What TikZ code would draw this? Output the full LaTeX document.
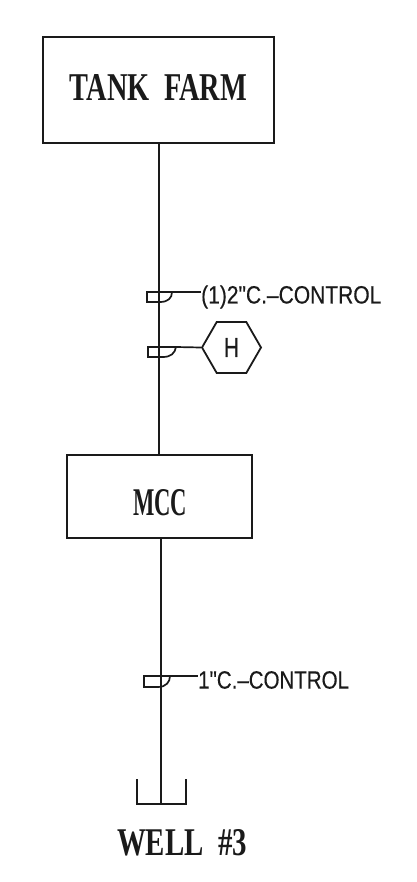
\documentclass[tikz,border=0pt]{standalone}
\usepackage{fontspec}
\usepackage{graphicx}
\setmainfont{Liberation Sans}
\newfontfamily\slabfont{Liberation Serif}[BoldFont={Liberation Serif Bold}]
\newfontfamily\calloutfont{Liberation Sans}[FakeBold=0.4]
\usetikzlibrary{shapes.geometric}
\definecolor{inkc}{HTML}{1A1A1A}
\tikzset{
  wire/.style={line width=2pt,draw=inkc},
  thin wire/.style={line width=1.7pt,draw=inkc},
  blockbox/.style={draw=inkc,line width=2.2pt,inner sep=0pt},
  slab/.style={font=\slabfont\bfseries\fontsize{36}{36}\selectfont,text=inkc,inner sep=0pt},
  callout/.style={font=\calloutfont\fontsize{25}{25}\selectfont,text=inkc,inner sep=0pt,anchor=west},
  hexa/.style={draw=inkc,line width=1.8pt,regular polygon,regular polygon sides=6,minimum size=59pt,inner sep=0pt,font=\calloutfont\fontsize{25}{25}\selectfont,text=inkc},
}
\newcommand{\fitlabel}[3]{\resizebox{#1pt}{#2pt}{#3}}
\begin{document}
\begin{tikzpicture}[x=1pt,y=-1pt]
\useasboundingbox (0,0) rectangle (416,882);
\node[blockbox,minimum width=231pt,minimum height=106pt] (tank) at (158.5,90) {};
\node[slab] (tanklabel) at (158.5,88) {\fitlabel{177}{26}{TANK\ \ FARM}};
\node[blockbox,minimum width=185pt,minimum height=83pt] (mcc) at (159.5,496.5) {};
\node[slab] (mcclabel) at (160,503) {\fitlabel{54}{26}{MCC}};
\coordinate (wellbase) at (161,804);
\draw[wire] (tank.south -| 159,0) -- (mcc.north -| 159,0);
\draw[wire] (mcc.south -| 161,0) -- (wellbase);
% well
\coordinate (wellL) at (137,779);
\coordinate (wellR) at (186,779);
\draw[thin wire] (wellL) |- (wellbase) -| (wellR);
\node[slab] (welllabel) at (182,843) {\fitlabel{130}{26}{WELL\ \ \#3}};
% sleeve 1
\coordinate (s1) at (172,292);
\draw[thin wire] (s1) -- (147,292) -- (147,302) -- (160,302) .. controls (168,302) and (172,298) .. (s1);
\node[callout] (l1) at (201,297) {\scalebox{.84}[1]{(1)2\textquotedbl C.–CONTROL}};
\draw[thin wire] (s1) -- (l1.west |- s1);
% sleeve 2
\coordinate (s2) at (176,347);
\draw[thin wire] (s2) -- (148,347) -- (148,357) -- (163,357) .. controls (171,357) and (175,353) .. (s2);
\node[hexa] (hex) at (231.5,347.5) {\scalebox{.85}[1.1]{H}};
\draw[thin wire] (s2) -- (hex.west);
% sleeve 3
\coordinate (s3) at (170,676);
\draw[thin wire] (s3) -- (144,676) -- (144,687) -- (158,687) .. controls (166,687) and (170,682) .. (s3);
\node[callout] (l3) at (198,680) {\scalebox{.82}[1]{1\textquotedbl C.–CONTROL}};
\draw[thin wire] (s3) -- (l3.west |- s3);
\end{tikzpicture}
\end{document}
